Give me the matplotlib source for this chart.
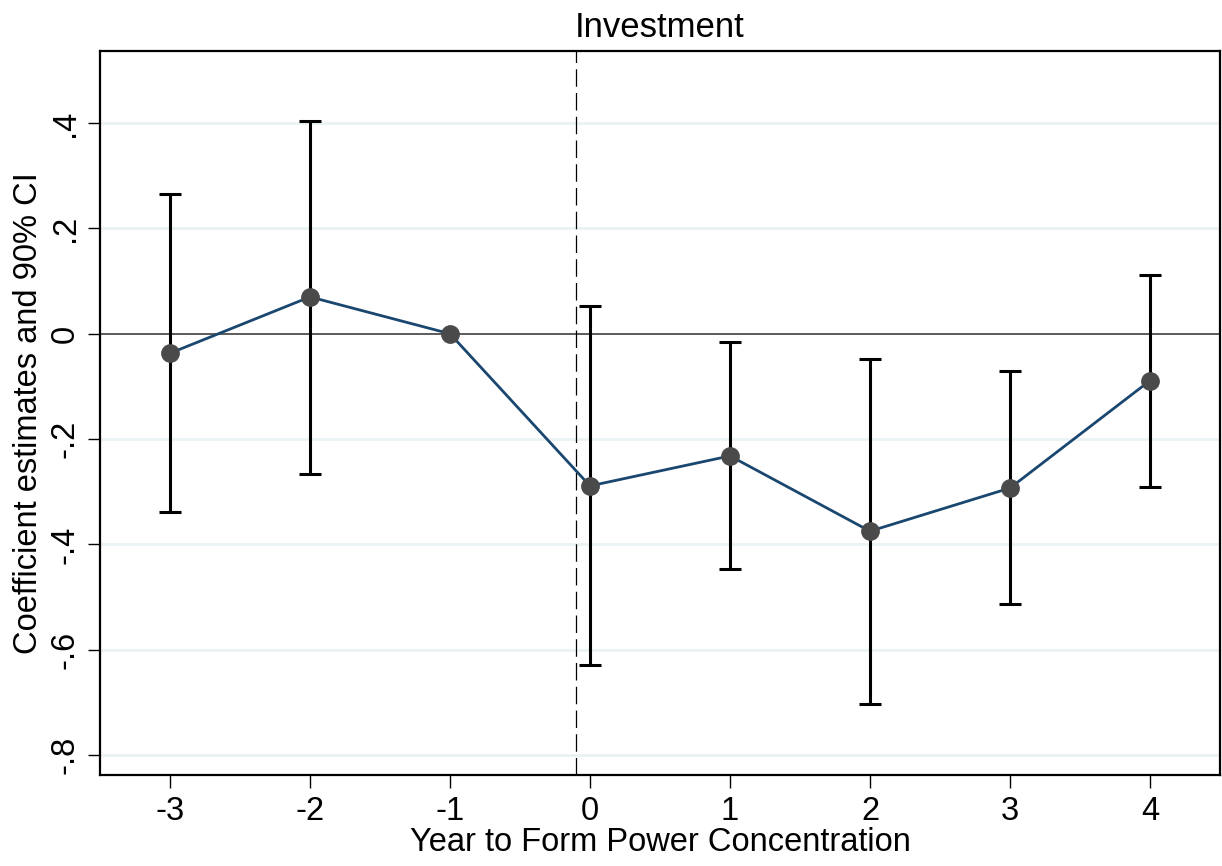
import numpy as np
import matplotlib.pyplot as plt

plt.rcParams['font.family'] = ['Liberation Sans', 'DejaVu Sans']

# event time and estimates
years = [-3, -2, -1, 0, 1, 2, 3, 4]
coef = [-0.037, 0.070, 0.0, -0.289, -0.232, -0.375, -0.293, -0.089]
ci_upper = [0.265, 0.405, np.nan, 0.053, -0.016, -0.048, -0.070, 0.112]
ci_lower = [-0.338, -0.266, np.nan, -0.629, -0.447, -0.703, -0.513, -0.291]

yticks = [0.4, 0.2, 0.0, -0.2, -0.4, -0.6, -0.8]
ytick_labels = ['.4', '.2', '0', '-.2', '-.4', '-.6', '-.8']
event_line = -0.1

fig = plt.figure(figsize=(12.22, 8.66), dpi=100)
ax = fig.add_axes([100 / 1222, 1 - 775 / 866, 1120 / 1222, 724 / 866])

x = np.array(years, dtype=float)
y = np.array(coef)
lo = np.array(ci_lower)
hi = np.array(ci_upper)
has_ci = ~np.isnan(lo)

# gridlines and reference lines
for t in yticks:
    if t != 0:
        ax.axhline(t, color='#eaf2f3', lw=2, zorder=0)
ax.axhline(0, color='#404040', lw=1.2, zorder=1)
ax.axvline(event_line, color='black', lw=0.9, dashes=(14, 5), zorder=1)

# confidence intervals
ax.errorbar(x[has_ci], y[has_ci],
            yerr=[y[has_ci] - lo[has_ci], hi[has_ci] - y[has_ci]],
            fmt='none', ecolor='black', elinewidth=2.2, capsize=8, capthick=2.2,
            zorder=2)
ax.plot(x, y, color='#1a476f', lw=2, zorder=3)
ax.plot(x, y, 'o', color='#4a4a4a', markersize=12.5, zorder=4)

ax.set_xlim(-3.5, 4.5)
ax.set_ylim(-0.838, 0.537)
ax.set_xticks(years)
ax.set_xticklabels([str(v) for v in years])
ax.set_yticks(yticks)
ax.set_yticklabels(ytick_labels, rotation=90, va='center')

ax.tick_params(axis='both', direction='out', length=9, width=1,
               labelsize=23.5, color='black')
ax.tick_params(axis='x', pad=6)
ax.tick_params(axis='y', pad=5)
for s in ax.spines.values():
    s.set_linewidth(1.6)
    s.set_color('black')

ax.set_title('Investment', fontsize=25, pad=10)
ax.set_xlabel('Year to Form Power Concentration', fontsize=23.5, labelpad=0)
ax.set_ylabel('Coefficient estimates and 90% CI', fontsize=23.5, labelpad=4)

fig.savefig('out.png', dpi=100)
